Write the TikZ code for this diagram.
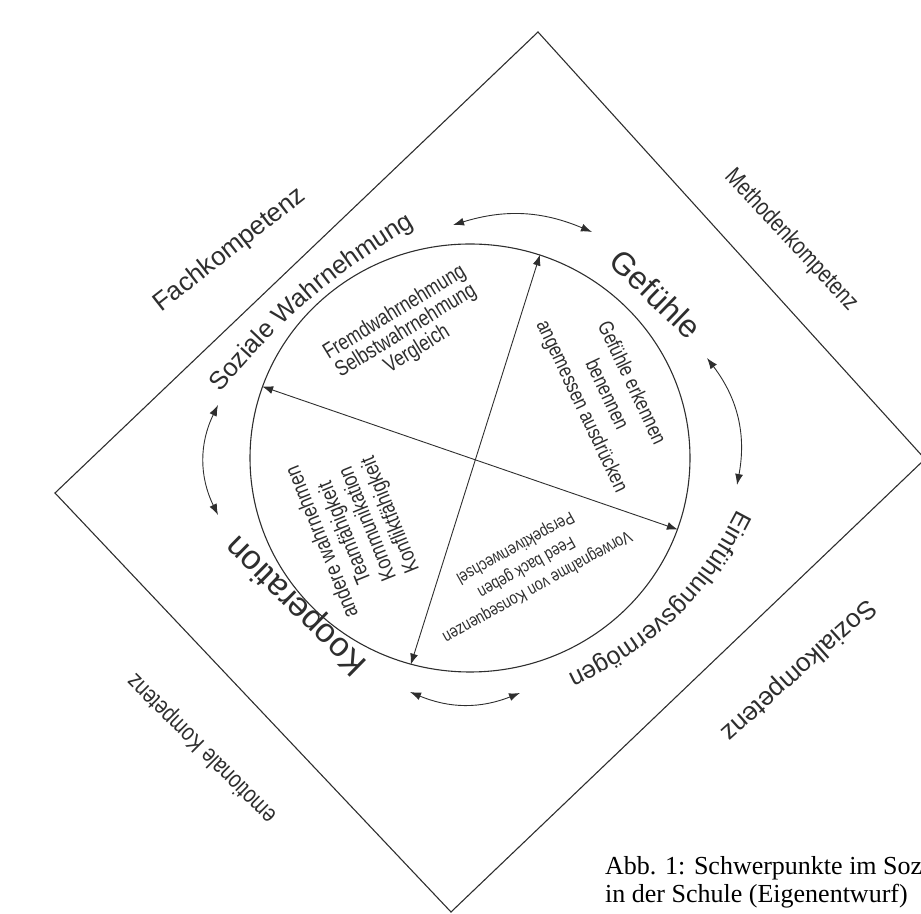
\documentclass[tikz,border=0pt]{standalone}
\usepackage{fontspec}
\setmainfont{Liberation Sans}
\newfontfamily\capfont{Liberation Serif}
\newfontfamily\narrowfont[FakeStretch=0.8]{Liberation Sans}
\usetikzlibrary{arrows.meta,shapes.geometric,decorations.text}
\definecolor{ink}{HTML}{2E2E2E}
\tikzset{
  dblarrow/.style={{Latex[length=11pt,width=8pt]}-{Latex[length=11pt,width=8pt]},line width=0.9pt,draw=ink},
  outertext/.style={text=ink,inner sep=0pt,font=\fontsize{26}{30}\selectfont},
  narrowtext/.style={text=ink,inner sep=0pt,font=\narrowfont\fontsize{24.5}{28}\selectfont},
  innerlist/.style={text=ink,inner sep=0pt,align=center},
  arctext/.style={decorate,decoration={text along path,text align=center,text color=ink,text={#1}}}
}
\begin{document}
\begin{tikzpicture}[x=1pt,y=1pt]
\useasboundingbox (0,0) rectangle (921,913);
\coordinate (N) at (538,881);
\coordinate (E) at (925,454);
\coordinate (S) at (451,1);
\coordinate (W) at (55,420);
\draw[line width=1.1pt,draw=ink] (N) -- (E) -- (S) -- (W) -- cycle;

\node[shape=ellipse,draw=ink,line width=1.1pt,minimum width=440pt,minimum height=428pt,inner sep=0pt] (ring) at (470,455) {};
\draw[dblarrow] (ring.161) -- (ring.341);
\draw[dblarrow] (ring.71) -- (ring.254.5);

\coordinate (t1) at (453,688);
\coordinate (t2) at (592,681);
\coordinate (r1) at (707,555);
\coordinate (r2) at (737,428);
\coordinate (b1) at (410,221);
\coordinate (b2) at (520,220);
\coordinate (l1) at (218,508);
\coordinate (l2) at (218,398);
\draw[dblarrow] (t1) to[bend left=20] (t2);
\draw[dblarrow] (r1) to[bend left=24] (r2);
\draw[dblarrow] (b1) to[bend right=22] (b2);
\draw[dblarrow] (l1) to[bend right=26] (l2);

\node[outertext,rotate=38] (fach) at (230,663) {Fachkompetenz};
\node[narrowtext,rotate=-47] (meth) at (791,673) {Methodenkompetenz};
\node[outertext,rotate=222] (sozk) at (798,243) {Sozialkompetenz};
\node[narrowtext,rotate=135] (emo) at (202,165) {emotionale Kompetenz};

\coordinate (sw1) at (212,510);
\coordinate (sw2) at (426,694);
\path[arctext={|\fontsize{25.5}{30}\selectfont|Soziale Wahrnehmung}] (sw1) to[bend left=10] (sw2);
\coordinate (ev1) at (744,416);
\coordinate (ev2) at (555,232);
\path[arctext={|\fontsize{25}{30}\selectfont|Einfühlungsvermögen}] (ev1) to[bend left=20] (ev2);
\node[outertext,font=\fontsize{32}{36}\selectfont,rotate=-44] (gef) at (656,619) {Gefühle};
\node[outertext,font=\fontsize{34}{38}\selectfont,rotate=135.5] (koop) at (297,308) {Kooperation};

\node[innerlist,font=\narrowfont\fontsize{22}{19.5}\selectfont,rotate=31.5] (wahr) at (406,582) {Fremdwahrnehmung\\Selbstwahrnehmung\\Vergleich};
\node[innerlist,font=\narrowfont\fontsize{21}{27.5}\selectfont,rotate=-64.7] (gefl) at (606,518) {Gefühle erkennen\\benennen\\angemessen ausdrücken};
\node[innerlist,font=\narrowfont\fontsize{22}{24.5}\selectfont,rotate=112] (koopl) at (357,385) {andere wahrnehmen\\Teamfähigkeit\\Kommunikation\\Konfliktfähigkeit};
\node[innerlist,font=\narrowfont\fontsize{17.5}{22.4}\selectfont,rotate=209] (einl) at (526,346) {Vorwegnahme von Konsequenzen\\Feed back geben\\Perspektivenwechsel};

\node[anchor=base west,inner sep=0pt,font=\capfont\fontsize{26}{29}\selectfont] (cap1) at (605,38) {Abb. 1: Schwerpunkte im Soz};
\node[anchor=base west,inner sep=0pt,font=\capfont\fontsize{26}{29}\selectfont] (cap2) at (605,10) {in der Schule (Eigenentwurf)};
\end{tikzpicture}
\end{document}
